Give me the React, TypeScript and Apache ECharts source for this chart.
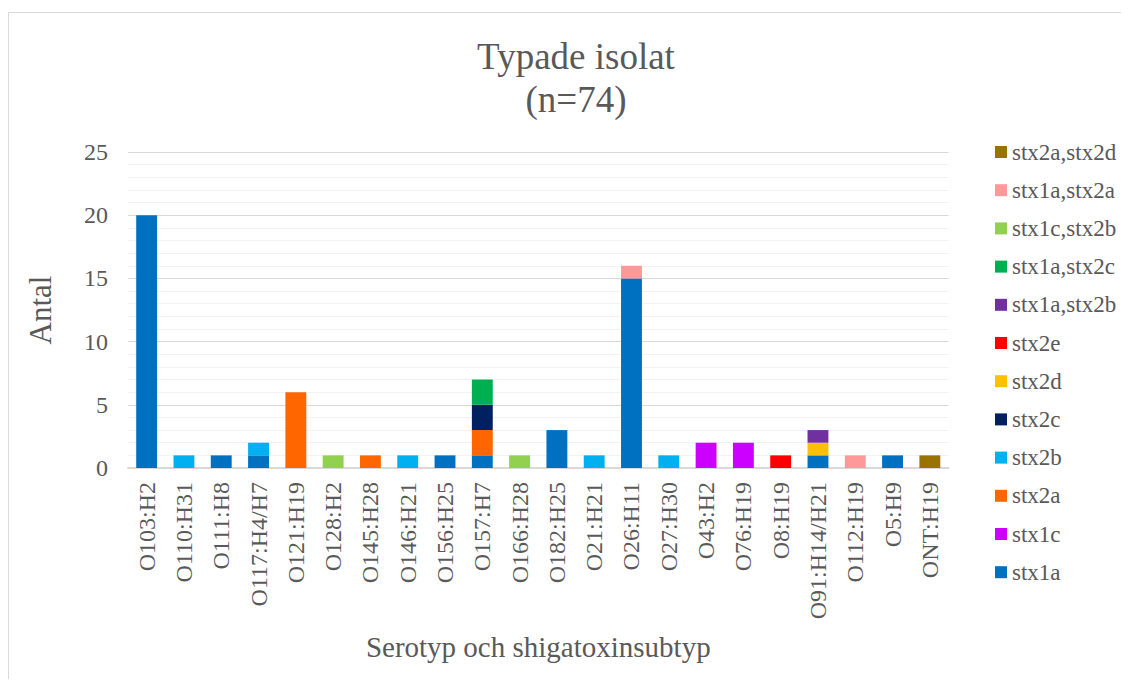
import React, { useEffect, useRef } from "react";
import * as echarts from "echarts";

const categories = [
  "O103:H2", "O110:H31", "O111:H8", "O117:H4/H7", "O121:H19", "O128:H2", "O145:H28",
  "O146:H21", "O156:H25", "O157:H7", "O166:H28", "O182:H25", "O21:H21", "O26:H11",
  "O27:H30", "O43:H2", "O76:H19", "O8:H19", "O91:H14/H21", "O112:H19", "O5:H9", "ONT:H19",
];

// values per category, same order as categories
const stx1a      = [20, 0, 1, 1, 0, 0, 0, 0, 1, 1, 0, 3, 0, 15, 0, 0, 0, 0, 1, 0, 1, 0];
const stx1c      = [0, 0, 0, 0, 0, 0, 0, 0, 0, 0, 0, 0, 0, 0, 0, 2, 2, 0, 0, 0, 0, 0];
const stx2a      = [0, 0, 0, 0, 6, 0, 1, 0, 0, 2, 0, 0, 0, 0, 0, 0, 0, 0, 0, 0, 0, 0];
const stx2b      = [0, 1, 0, 1, 0, 0, 0, 1, 0, 0, 0, 0, 1, 0, 1, 0, 0, 0, 0, 0, 0, 0];
const stx2c      = [0, 0, 0, 0, 0, 0, 0, 0, 0, 2, 0, 0, 0, 0, 0, 0, 0, 0, 0, 0, 0, 0];
const stx2d      = [0, 0, 0, 0, 0, 0, 0, 0, 0, 0, 0, 0, 0, 0, 0, 0, 0, 0, 1, 0, 0, 0];
const stx2e      = [0, 0, 0, 0, 0, 0, 0, 0, 0, 0, 0, 0, 0, 0, 0, 0, 0, 1, 0, 0, 0, 0];
const stx1aStx2b = [0, 0, 0, 0, 0, 0, 0, 0, 0, 0, 0, 0, 0, 0, 0, 0, 0, 0, 1, 0, 0, 0];
const stx1aStx2c = [0, 0, 0, 0, 0, 0, 0, 0, 0, 2, 0, 0, 0, 0, 0, 0, 0, 0, 0, 0, 0, 0];
const stx1cStx2b = [0, 0, 0, 0, 0, 1, 0, 0, 0, 0, 1, 0, 0, 0, 0, 0, 0, 0, 0, 0, 0, 0];
const stx1aStx2a = [0, 0, 0, 0, 0, 0, 0, 0, 0, 0, 0, 0, 0, 1, 0, 0, 0, 0, 0, 1, 0, 0];
const stx2aStx2d = [0, 0, 0, 0, 0, 0, 0, 0, 0, 0, 0, 0, 0, 0, 0, 0, 0, 0, 0, 0, 0, 1];

const seriesNames = [
  "stx1a", "stx1c", "stx2a", "stx2b", "stx2c", "stx2d", "stx2e",
  "stx1a,stx2b", "stx1a,stx2c", "stx1c,stx2b", "stx1a,stx2a", "stx2a,stx2d",
];
const seriesValues = [
  stx1a, stx1c, stx2a, stx2b, stx2c, stx2d, stx2e,
  stx1aStx2b, stx1aStx2c, stx1cStx2b, stx1aStx2a, stx2aStx2d,
];
const seriesColors = [
  "#0070C0", "#CC00FF", "#FF6600", "#00B0F0", "#002060", "#FFC000", "#FF0000",
  "#7030A0", "#00B050", "#92D050", "#FF9999", "#997300",
];

const yTicks = { min: 0, max: 25, interval: 5 };

const FONT = "'Liberation Serif', 'Times New Roman', serif";
const TEXT = "#595959";

export default function App() {
  const ref = useRef<HTMLDivElement>(null);
  useEffect(() => {
    if (!ref.current) return;
    const chart = echarts.init(ref.current, null, { renderer: "svg" });
    chart.setOption({
      animation: false,
      backgroundColor: "#ffffff",
      textStyle: { fontFamily: FONT },
      graphic: [
        {
          type: "rect",
          shape: { x: 0.5, y: 4.5, width: 1140, height: 700 },
          style: { fill: "none", stroke: "#d9d9d9", lineWidth: 1 },
          silent: true,
        },
      ],
      title: {
        text: "Typade isolat\n(n=74)",
        left: 563,
        top: 22,
        textAlign: "center",
        textStyle: {
          fontFamily: FONT,
          fontSize: 37,
          lineHeight: 43,
          fontWeight: "normal",
          color: TEXT,
        },
      },
      legend: {
        orient: "vertical",
        left: 982,
        top: 127,
        itemWidth: 12,
        itemHeight: 12,
        itemGap: 14.2,
        icon: "rect",
        data: [...seriesNames].reverse(),
        textStyle: { fontFamily: FONT, fontSize: 23, lineHeight: 24, color: TEXT },
      },
      grid: { left: 120, right: 180.5, top: 144, bottom: 211, containLabel: false },
      xAxis: {
        type: "category",
        data: categories,
        name: "Serotyp och shigatoxinsubtyp",
        nameLocation: "middle",
        nameGap: 164,
        nameTextStyle: { fontFamily: FONT, fontSize: 29, color: TEXT },
        axisLine: { lineStyle: { color: "#d9d9d9", width: 2 } },
        axisTick: { show: false },
        axisLabel: {
          rotate: 90,
          fontFamily: FONT,
          fontSize: 24,
          color: TEXT,
          margin: 14,
          interval: 0,
        },
      },
      yAxis: {
        type: "value",
        min: yTicks.min,
        max: yTicks.max,
        interval: yTicks.interval,
        name: "Antal",
        nameLocation: "middle",
        nameGap: 72,
        nameTextStyle: { fontFamily: FONT, fontSize: 31, color: TEXT },
        axisLine: { show: false },
        axisTick: { show: false },
        axisLabel: { fontFamily: FONT, fontSize: 24, color: TEXT, margin: 20 },
        splitLine: { lineStyle: { color: "#d9d9d9", width: 1 } },
        minorTick: { show: false, splitNumber: 5 },
        minorSplitLine: { show: true, lineStyle: { color: "#f2f2f2", width: 1 } },
      },
      series: seriesNames.map((name, i) => ({
        name,
        type: "bar",
        stack: "total",
        data: seriesValues[i],
        barCategoryGap: "44%",
        itemStyle: { color: seriesColors[i] },
      })),
    });
    return () => chart.dispose();
  }, []);
  return <div ref={ref} style={{ width: 1121, height: 671 }} />;
}
